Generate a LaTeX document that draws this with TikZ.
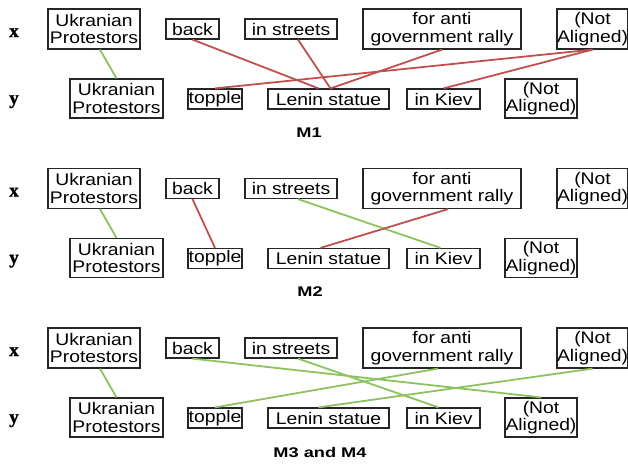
\documentclass[tikz,border=0pt]{standalone}
\usepackage[no-math]{fontspec}
\setmainfont{Liberation Sans}[FakeStretch=1.15]
\newfontfamily\mfont{Liberation Sans}[FakeStretch=1.3]
\newfontfamily\labfont{Liberation Serif}[FakeBold=1.2]
\definecolor{lred}{RGB}{192,80,77}
\definecolor{lgreen}{RGB}{140,195,95}
\begin{document}
\begin{tikzpicture}[x=1pt,y=-1pt,
  box/.style={draw=black!85,line width=1.2pt,inner sep=0pt,align=center,
    font=\fontsize{16.8}{17.5}\selectfont},
  rowlab/.style={font=\labfont\bfseries\fontsize{19}{20}\selectfont,anchor=base},
  paneltitle/.style={font=\mfont\bfseries\fontsize{14}{16}\selectfont},
  al/.style={line width=1.8pt},
  good/.style={al,draw=lgreen},
  bad/.style={al,draw=lred}]
\useasboundingbox (0,0) rectangle (628,466);
\foreach \p/\o in {a/0,b/159.5,c/319}{
  \begin{scope}[shift={(0,\o)}]
    \node[rowlab] (lx\p) at (14,37) {x};
    \node[rowlab] (ly\p) at (14,104) {y};
    \node[box,minimum width=92pt,minimum height=40pt] (ux\p) at (94,29) {Ukranian\\Protestors};
    \node[box,minimum width=53pt,minimum height=20pt] (back\p) at (192.5,29) {back};
    \node[box,minimum width=92pt,minimum height=20pt] (streets\p) at (291,29) {in streets};
    \node[box,minimum width=158pt,minimum height=40pt] (anti\p) at (442,29) {for anti\\government rally};
    \node[box,minimum width=69pt,minimum height=40pt] (nax\p) at (592.5,29) {(Not\\Aligned)};
    \node[box,minimum width=93pt,minimum height=39pt] (uy\p) at (116.5,98.5) {Ukranian\\Protestors};
    \node[box,minimum width=54pt,minimum height=20pt] (topple\p) at (215,99) {topple};
    \node[box,minimum width=121pt,minimum height=20pt] (lenin\p) at (328.5,99) {Lenin statue};
    \node[box,minimum width=73pt,minimum height=20pt] (kiev\p) at (443.5,99) {in Kiev};
    \node[box,minimum width=72pt,minimum height=39pt] (nay\p) at (541,98.5) {(Not\\Aligned)};
  \end{scope}
}
\node[paneltitle] (t1) at (309,133) {M1};
\node[paneltitle] (t2) at (310,292) {M2};
\node[paneltitle] (t3) at (320,452) {M3 and M4};
% M1
\draw[good] ([xshift=6pt]uxa.south) -- (uya.north);
\draw[bad] (backa.south) -- ([xshift=-10pt]lenina.north);
\draw[bad] ([xshift=7pt]streetsa.south) -- ([xshift=2pt]lenina.north);
\draw[bad] (antia.south) -- ([xshift=2pt]lenina.north);
\draw[bad] (topplea.north) -- (naxa.south);
\draw[bad] (naxa.south) -- (kieva.north);
% M2
\draw[good] ([xshift=6pt]uxb.south) -- (uyb.north);
\draw[bad] (backb.south) -- (toppleb.north);
\draw[good] ([xshift=7pt]streetsb.south) -- ([xshift=-3pt]kievb.north);
\draw[bad] ([xshift=6pt]antib.south) -- ([xshift=-8pt]leninb.north);
% M3 and M4
\draw[good] ([xshift=6pt]uxc.south) -- (uyc.north);
\draw[good] (backc.south) -- (nayc.north);
\draw[good] ([xshift=7pt]streetsc.south) -- ([xshift=-5pt]kievc.north);
\draw[good] ([xshift=-4pt]antic.south) -- (topplec.north);
\draw[good] (naxc.south) -- ([xshift=-10pt]leninc.north);
\end{tikzpicture}
\end{document}
